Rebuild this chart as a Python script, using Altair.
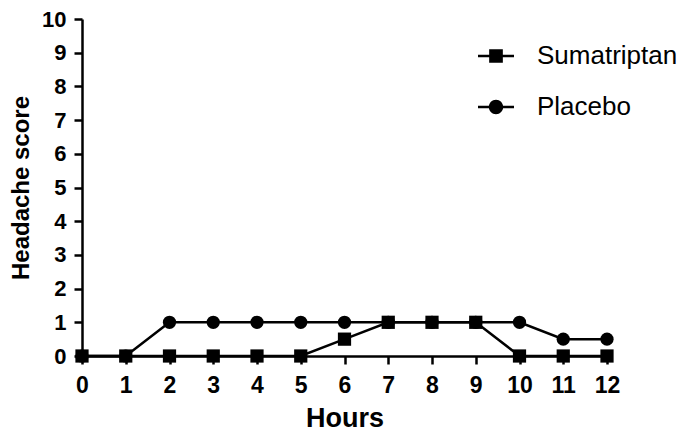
import altair as alt
import pandas as pd

hours = list(range(13))
sumatriptan = [0, 0, 0, 0, 0, 0, 0.5, 1, 1, 1, 0, 0, 0]
placebo = [0, 0, 1, 1, 1, 1, 1, 1, 1, 1, 1, 0.5, 0.5]
series_names = ["Sumatriptan", "Placebo"]
y_ticks = list(range(11))

df = pd.DataFrame({
    "Hours": hours + hours,
    "Score": sumatriptan + placebo,
    "Series": [series_names[0]] * len(hours) + [series_names[1]] * len(hours),
})

FONT = "Liberation Sans"

x = alt.X("Hours:Q",
          scale=alt.Scale(domain=[0, 12], nice=False),
          axis=alt.Axis(values=hours, title="Hours", labelPadding=10, titlePadding=8,
                        labelFlush=False, labelFontSize=23, titleFontSize=27))
y = alt.Y("Score:Q",
          scale=alt.Scale(domain=[0, 10], nice=False),
          axis=alt.Axis(values=y_ticks, title="Headache score", labelPadding=8, titlePadding=8,
                        labelFlush=False, labelFontSize=22, titleFontSize=24))

base = alt.Chart(df)

lines = base.mark_line(color="black", strokeWidth=2.5).encode(
    x=x, y=y, detail="Series:N", order="Hours:Q")

points = base.mark_point(filled=True, color="black", opacity=1, size=175).encode(
    x=x, y=y,
    shape=alt.Shape("Series:N",
                    scale=alt.Scale(domain=series_names, range=["square", "circle"]),
                    legend=None))

# legend glyphs: short line segments (as thin bars) + marker, all filled
sq_path = ("M-1,-0.07L-0.38,-0.07L-0.38,0.07L-1,0.07Z"
           "M0.38,-0.07L1,-0.07L1,0.07L0.38,0.07Z"
           "M-0.38,-0.38L0.38,-0.38L0.38,0.38L-0.38,0.38Z")
ci_path = ("M-1,-0.07L-0.38,-0.07L-0.38,0.07L-1,0.07Z"
           "M0.38,-0.07L1,-0.07L1,0.07L0.38,0.07Z"
           "M-0.4,0A0.4,0.4,0,1,1,0.4,0A0.4,0.4,0,1,1,-0.4,0Z")

legend_layer = base.transform_filter("datum.Hours < 0").mark_point(
    filled=True, color="black", opacity=1).encode(
    x=x, y=y,
    shape=alt.Shape("Series:N",
                    scale=alt.Scale(domain=series_names, range=[sq_path, ci_path]),
                    legend=alt.Legend(title=None, orient="none", legendX=395, legendY=18,
                                      symbolSize=1296, symbolOpacity=1,
                                      symbolFillColor="black",
                                      labelFont=FONT,
                                      labelFontSize=26, labelColor="black",
                                      labelOffset=22, rowPadding=19, padding=0)))

chart = alt.layer(lines, points, legend_layer).resolve_scale(shape="independent").properties(
    width=525, height=337,
    autosize=alt.AutoSizeParams(type="none"),
    padding={"left": 74, "top": 11, "right": 70, "bottom": 75},
).configure_view(stroke=None).configure_axis(
    grid=False,
    domainColor="black", domainWidth=2.5,
    tickColor="black", tickWidth=2.5, tickSize=8,
    labelFont=FONT, labelFontWeight="bold", labelColor="black",
    titleFont=FONT, titleFontWeight="bold", titleColor="black",
)

chart.save("out.html", embed_options={"renderer": "svg", "actions": False})
